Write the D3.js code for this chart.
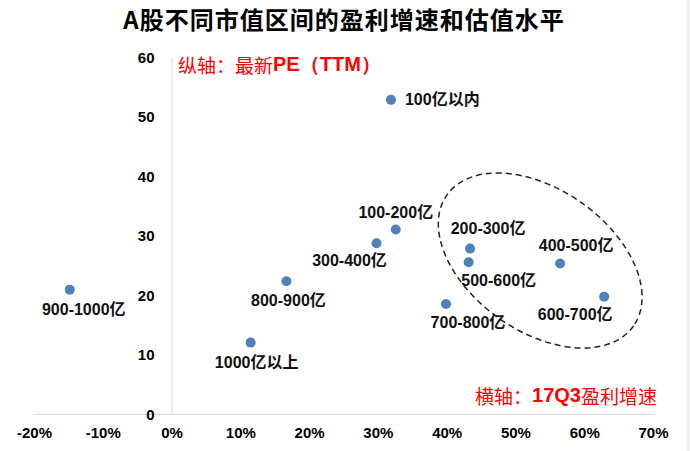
<html>
  <head>
    <meta charset="utf-8">
    <script src="https://cdnjs.cloudflare.com/ajax/libs/d3/7.8.5/d3.min.js"></script>
    <style>
    body { margin: 0; background: #fff; }
    svg { display: block; }
    .tick text { font-family: "Liberation Sans", Arial, sans-serif; font-weight: bold; font-size: 15px; fill: #000; }
    .lbl { font-family: "Liberation Sans", "Noto Sans CJK SC", sans-serif; font-weight: bold; font-size: 16px; fill: #111; }
    .note { font-family: "Noto Sans CJK SC", sans-serif; font-size: 19px; fill: #ff0000; }
    </style>
  </head>
  <body>
    <svg width="690" height="451" id="chart"></svg>

    <script>
    // 市值区间, 17Q3 盈利增速 (%), 最新PE (TTM)
    var names  = ['100亿以内', '100-200亿', '200-300亿', '300-400亿', '400-500亿', '500-600亿',
                  '600-700亿', '700-800亿', '800-900亿', '900-1000亿', '1000亿以上'];
    var growth = [31.9, 32.6, 43.4, 29.8, 56.5, 43.2, 62.9, 39.9, 16.7, -14.8, 11.5];
    var pe     = [52.8, 31.0, 27.8, 28.7, 25.3, 25.5, 19.7, 18.5, 22.3, 20.9, 12.0];
    var xTicks = [-20, -10, 0, 10, 20, 30, 40, 50, 60, 70];
    var yTicks = [0, 10, 20, 30, 40, 50, 60];

    // label placement relative to each dot (px)
    var labelPos = [[14, 0, 'start'], [0, -17, 'middle'], [18, -20, 'middle'], [-27, 17, 'middle'],
                    [16, -18, 'middle'], [30, 18, 'middle'], [-29, 18, 'middle'], [22, 19, 'middle'],
                    [2, 19, 'middle'], [14, 20, 'middle'], [6, 20, 'middle']];

    var svg = d3.select('#chart');
    var x = d3.scaleLinear().domain([-20, 70]).range([34, 653]);
    var y = d3.scaleLinear().domain([0, 60]).range([414, 57]);

    // right frame line
    svg.append('line')
      .attr('x1', 688).attr('x2', 688).attr('y1', 0).attr('y2', 451)
      .attr('stroke', '#d9d9d9').attr('stroke-width', 1);

    svg.append('text')
      .attr('x', 344).attr('y', 18)
      .attr('text-anchor', 'middle').attr('dominant-baseline', 'central')
      .style('font-family', '"Noto Sans CJK SC", sans-serif')
      .style('font-weight', 'bold').style('font-size', '24px').style('letter-spacing', '1px')
      .text('A股不同市值区间的盈利增速和估值水平');

    var xAxis = svg.append('g')
      .attr('transform', 'translate(0,' + y(0) + ')')
      .call(d3.axisBottom(x).tickValues(xTicks).tickSize(0).tickPadding(13)
        .tickFormat(function(d) { return d + '%'; }));
    xAxis.select('.domain').attr('stroke', '#d9d9d9');

    var yAxis = svg.append('g')
      .attr('transform', 'translate(' + x(0) + ',0)')
      .call(d3.axisLeft(y).tickValues(yTicks).tickSize(0).tickPadding(17));
    yAxis.select('.domain').attr('stroke', '#d9d9d9');
    yAxis.selectAll('.tick text').attr('dy', '0.35em');

    // dashed ellipse round the high-growth group
    svg.append('ellipse')
      .attr('transform', 'translate(' + x(53.6) + ',' + y(25.8) + ') rotate(35)')
      .attr('rx', 114).attr('ry', 71)
      .attr('fill', 'none').attr('stroke', '#222').attr('stroke-width', 1.5)
      .attr('stroke-dasharray', '6,4');

    var pts = svg.append('g').selectAll('g')
      .data(names)
      .enter()
      .append('g')
      .attr('transform', function(_, i) {
        return 'translate(' + x(growth[i]) + ' ' + y(pe[i]) + ')';
      });

    pts.append('circle')
      .attr('r', 5)
      .attr('fill', '#4f81bd');

    pts.append('text')
      .attr('class', 'lbl')
      .attr('x', function(_, i) { return labelPos[i][0]; })
      .attr('y', function(_, i) { return labelPos[i][1]; })
      .attr('text-anchor', function(_, i) { return labelPos[i][2]; })
      .attr('dominant-baseline', 'central')
      .text(function(d) { return d; });

    var yNote = svg.append('text').attr('class', 'note')
      .attr('x', 178).attr('y', 64).attr('dominant-baseline', 'central');
    yNote.append('tspan').text('纵轴：最新');
    yNote.append('tspan').style('font-family', '"Liberation Sans", Arial, sans-serif')
      .style('font-weight', 'bold').style('font-size', '20px').text('PE（TTM）');

    var xNote = svg.append('text').attr('class', 'note')
      .attr('x', 657).attr('y', 395).attr('text-anchor', 'end').attr('dominant-baseline', 'central');
    xNote.append('tspan').text('横轴：');
    xNote.append('tspan').style('font-family', '"Liberation Sans", Arial, sans-serif')
      .style('font-weight', 'bold').style('font-size', '20px').text('17Q3');
    xNote.append('tspan').text('盈利增速');
    </script>
  </body>
</html>
